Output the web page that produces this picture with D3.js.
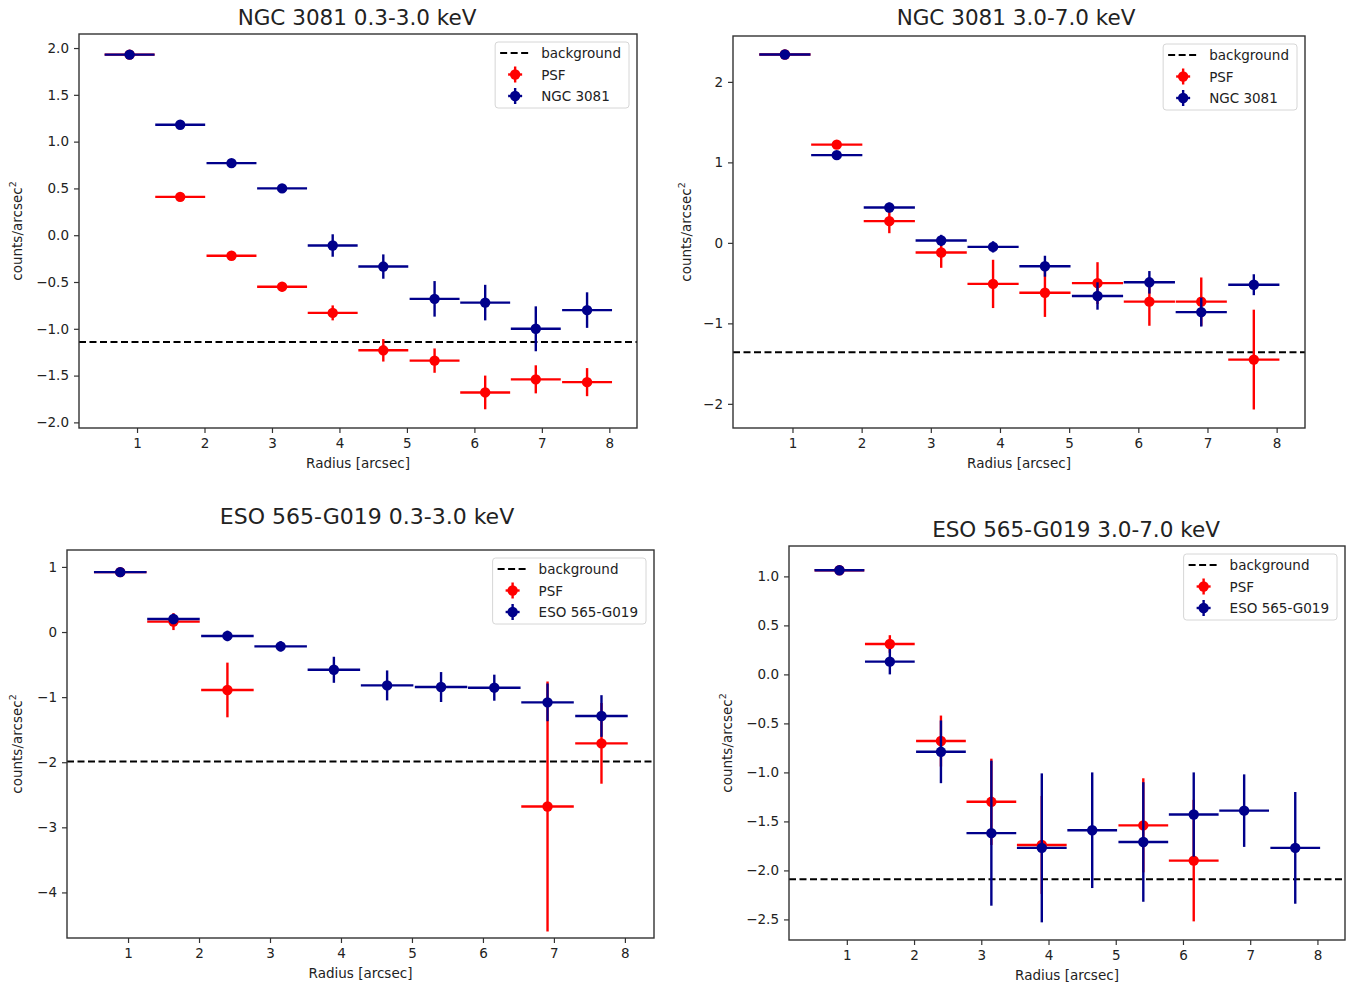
<!DOCTYPE html>
<html>
<head>
<meta charset="utf-8">
<script src="https://cdn.jsdelivr.net/npm/d3@7"></script>
<style>
  body { margin: 0; background: #fff; }
  text { font-family: "DejaVu Sans", sans-serif; fill: #222; }
</style>
</head>
<body>
<div id="chart"></div>
<script>
// radial bins (arcsec), shared by all four panels
const radius = [0.89, 1.64, 2.40, 3.15, 3.90, 4.65, 5.41, 6.16, 6.91, 7.67];
const radiusErr = [0.37, 0.37, 0.37, 0.37, 0.37, 0.37, 0.37, 0.37, 0.37, 0.37];
const xTicks = [1, 2, 3, 4, 5, 6, 7, 8];

// NGC 3081, 0.3-3.0 keV
const ngcSoft = [1.93, 1.18, 0.77, 0.50, -0.11, -0.335, -0.68, -0.72, -1.00, -0.80];
const ngcSoftErr = [0.02, 0.02, 0.03, 0.04, 0.12, 0.13, 0.19, 0.19, 0.24, 0.19];
const psfNgcSoft = [1.93, 0.41, -0.22, -0.55, -0.83, -1.23, -1.34, -1.68, -1.54, -1.57];
const psfNgcSoftErr = [0.02, 0.02, 0.03, 0.05, 0.08, 0.12, 0.13, 0.18, 0.15, 0.15];
const bgNgcSoft = -1.14;

// NGC 3081, 3.0-7.0 keV
const ngcHard = [2.34, 1.09, 0.44, 0.03, -0.05, -0.29, -0.66, -0.49, -0.86, -0.52];
const ngcHardErr = [0.02, 0.03, 0.06, 0.07, 0.07, 0.13, 0.17, 0.14, 0.18, 0.13];
const psfNgcHard = [2.34, 1.22, 0.27, -0.12, -0.51, -0.62, -0.50, -0.73, -0.73, -1.45];
const psfNgcHardErr = [0.02, 0.04, 0.15, 0.19, 0.30, 0.30, 0.26, 0.30, 0.30, 0.62];
const bgNgcHard = -1.36;

// ESO 565-G019, 0.3-3.0 keV
const esoSoft = [0.92, 0.20, -0.06, -0.22, -0.58, -0.82, -0.845, -0.855, -1.08, -1.29];
const esoSoftErr = [0.03, 0.08, 0.08, 0.08, 0.20, 0.23, 0.23, 0.20, 0.29, 0.32];
const psfEsoSoft = [0.92, 0.16, -0.89, null, null, null, null, null, -2.68, -1.71];
const psfEsoSoftErr = [0.03, 0.13, 0.42, null, null, null, null, null, 1.92, 0.62];
const bgEsoSoft = -1.99;

// ESO 565-G019, 3.0-7.0 keV
const esoHard = [1.063, 0.13, -0.79, -1.62, -1.77, -1.59, -1.71, -1.43, -1.39, -1.77];
const esoHardErr = [0.02, 0.13, 0.32, 0.74, 0.76, 0.59, 0.61, 0.43, 0.37, 0.57];
const psfEsoHard = [1.063, 0.31, -0.68, -1.30, -1.74, null, -1.54, -1.90, null, null];
const psfEsoHardErr = [0.02, 0.09, 0.26, 0.44, 0.50, null, 0.48, 0.62, null, null];
const bgEsoHard = -2.09;

const blue = '#00008b', red = '#ff0000';

const panels = [
  { title: 'NGC 3081 0.3-3.0 keV', name: 'NGC 3081', gal: ngcSoft, galErr: ngcSoftErr,
    psf: psfNgcSoft, psfErr: psfNgcSoftErr, bg: bgNgcSoft,
    box: { left: 79, top: 34, right: 637, bottom: 428 }, titleX: 357, titleY: 25, titleSize: 21.5,
    yDomain: [-2.06, 2.15], yTicks: [-2, -1.5, -1, -0.5, 0, 0.5, 1, 1.5, 2], yFmt: '.1f', ylabX: 17 },
  { title: 'NGC 3081 3.0-7.0 keV', name: 'NGC 3081', gal: ngcHard, galErr: ngcHardErr,
    psf: psfNgcHard, psfErr: psfNgcHardErr, bg: bgNgcHard,
    box: { left: 733, top: 36, right: 1305, bottom: 428 }, titleX: 1016, titleY: 25, titleSize: 21.5,
    yDomain: [-2.3, 2.57], yTicks: [-2, -1, 0, 1, 2], yFmt: 'd', ylabX: 686 },
  { title: 'ESO 565-G019 0.3-3.0 keV', name: 'ESO 565-G019', gal: esoSoft, galErr: esoSoftErr,
    psf: psfEsoSoft, psfErr: psfEsoSoftErr, bg: bgEsoSoft,
    box: { left: 67, top: 550, right: 654, bottom: 938 }, titleX: 367, titleY: 524, titleSize: 22,
    yDomain: [-4.70, 1.26], yTicks: [-4, -3, -2, -1, 0, 1], yFmt: 'd', ylabX: 17 },
  { title: 'ESO 565-G019 3.0-7.0 keV', name: 'ESO 565-G019', gal: esoHard, galErr: esoHardErr,
    psf: psfEsoHard, psfErr: psfEsoHardErr, bg: bgEsoHard,
    box: { left: 789, top: 546, right: 1345, bottom: 940 }, titleX: 1076, titleY: 537, titleSize: 21.5,
    yDomain: [-2.71, 1.31], yTicks: [-2.5, -2, -1.5, -1, -0.5, 0, 0.5, 1], yFmt: '.1f', ylabX: 727 }
];

const svg = d3.select('#chart')
  .append('svg')
  .attr('width', 1354)
  .attr('height', 988);

svg.append('rect').attr('width', 1354).attr('height', 988).attr('fill', '#fff');

function drawSeries(g, x, y, vals, errs, color) {
  const pts = radius.map((r, i) => ({ r: r, xe: radiusErr[i], v: vals[i], e: errs[i] }))
    .filter(d => d.v !== null);

  // x error bars
  g.selectAll(null)
    .data(pts)
    .enter()
    .append('line')
    .attr('x1', d => x(d.r - d.xe))
    .attr('x2', d => x(d.r + d.xe))
    .attr('y1', d => y(d.v))
    .attr('y2', d => y(d.v))
    .attr('stroke', color)
    .attr('stroke-width', 2.4);

  // y error bars
  g.selectAll(null)
    .data(pts)
    .enter()
    .append('line')
    .attr('x1', d => x(d.r))
    .attr('x2', d => x(d.r))
    .attr('y1', d => y(d.v - d.e))
    .attr('y2', d => y(d.v + d.e))
    .attr('stroke', color)
    .attr('stroke-width', 2.4);

  g.selectAll(null)
    .data(pts)
    .enter()
    .append('circle')
    .attr('cx', d => x(d.r))
    .attr('cy', d => y(d.v))
    .attr('r', 5.2)
    .attr('fill', color);
}

function legendMarker(g, cx, cy, color) {
  g.append('line').attr('x1', cx).attr('x2', cx).attr('y1', cy - 8).attr('y2', cy + 8)
    .attr('stroke', color).attr('stroke-width', 2.4);
  g.append('line').attr('x1', cx - 7).attr('x2', cx + 7).attr('y1', cy).attr('y2', cy)
    .attr('stroke', color).attr('stroke-width', 2.4);
  g.append('circle').attr('cx', cx).attr('cy', cy).attr('r', 5.2).attr('fill', color);
}

panels.forEach(p => {
  const b = p.box;
  const g = svg.append('g');

  let x = d3.scaleLinear()
    .domain([0.14, 8.41])
    .range([b.left, b.right]);

  let y = d3.scaleLinear()
    .domain(p.yDomain)
    .range([b.bottom, b.top]);

  const clipId = 'clip' + b.left + '_' + b.top;
  g.append('clipPath').attr('id', clipId)
    .append('rect')
    .attr('x', b.left).attr('y', b.top)
    .attr('width', b.right - b.left).attr('height', b.bottom - b.top);

  const plot = g.append('g').attr('clip-path', 'url(#' + clipId + ')');

  // background level
  plot.append('line')
    .attr('x1', b.left)
    .attr('x2', b.right)
    .attr('y1', y(p.bg))
    .attr('y2', y(p.bg))
    .attr('stroke', '#000')
    .attr('stroke-width', 2)
    .attr('stroke-dasharray', '7,3.5');

  drawSeries(plot, x, y, p.psf, p.psfErr, red);
  drawSeries(plot, x, y, p.gal, p.galErr, blue);

  // axes
  const xAxis = g.append('g')
    .attr('transform', 'translate(0,' + b.bottom + ')')
    .call(d3.axisBottom(x).tickValues(xTicks).tickSize(5).tickPadding(5));
  const yAxis = g.append('g')
    .attr('transform', 'translate(' + b.left + ',0)')
    .call(d3.axisLeft(y).tickValues(p.yTicks).tickFormat(d3.format(p.yFmt)).tickSize(5).tickPadding(5));

  [xAxis, yAxis].forEach(a => {
    a.select('.domain').remove();
    a.selectAll('.tick line').attr('stroke', '#333').attr('stroke-width', 1.2);
    a.selectAll('.tick text')
      .style('font-size', '13.5px')
      .style('font-family', '"DejaVu Sans", sans-serif')
      .attr('fill', '#222');
  });

  g.append('rect')
    .attr('x', b.left)
    .attr('y', b.top)
    .attr('width', b.right - b.left)
    .attr('height', b.bottom - b.top)
    .attr('fill', 'none')
    .attr('stroke', '#333')
    .attr('stroke-width', 1.4);

  g.append('text')
    .attr('x', p.titleX)
    .attr('y', p.titleY)
    .style('text-anchor', 'middle')
    .style('font-size', p.titleSize + 'px')
    .text(p.title);

  g.append('text')
    .attr('x', (b.left + b.right) / 2)
    .attr('y', b.bottom + 40)
    .style('text-anchor', 'middle')
    .style('font-size', '13.5px')
    .text('Radius [arcsec]');

  const yl = g.append('text')
    .attr('transform', 'translate(' + (p.ylabX + 5) + ',' + ((b.top + b.bottom) / 2) + ') rotate(-90)')
    .style('text-anchor', 'middle')
    .style('font-size', '13.5px');
  yl.append('tspan').text('counts/arcsec');
  yl.append('tspan').attr('dy', -6).style('font-size', '9.5px').text('2');

  // legend
  const leg = g.append('g');
  const labels = ['background', 'PSF', p.name];
  const legTop = b.top + 8;
  const legBox = leg.append('rect')
    .attr('y', legTop)
    .attr('height', 66)
    .attr('rx', 3)
    .attr('fill', '#fff')
    .attr('fill-opacity', 0.85)
    .attr('stroke', '#d6d6d6')
    .attr('stroke-width', 1);

  const texts = labels.map((t, i) => leg.append('text')
    .attr('y', legTop + 16 + i * 21.5)
    .style('font-size', '13.5px')
    .text(t));
  const maxLen = d3.max(texts, t => t.node().getComputedTextLength());
  const legW = 46 + maxLen + 8;
  const legLeft = b.right - 8 - legW;
  legBox.attr('x', legLeft).attr('width', legW);
  texts.forEach(t => t.attr('x', legLeft + 46));

  leg.append('line')
    .attr('x1', legLeft + 5).attr('x2', legLeft + 36)
    .attr('y1', legTop + 11).attr('y2', legTop + 11)
    .attr('stroke', '#000').attr('stroke-width', 2)
    .attr('stroke-dasharray', '7,3.5');
  legendMarker(leg, legLeft + 20, legTop + 32.5, red);
  legendMarker(leg, legLeft + 20, legTop + 54, blue);
});
</script>
</body>
</html>
